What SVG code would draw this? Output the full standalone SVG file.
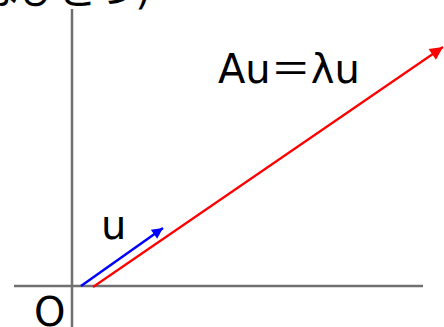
<svg xmlns="http://www.w3.org/2000/svg" width="444" height="327" viewBox="0 0 444 327">
<style>
text{font-family:"DejaVu Sans","Noto Sans CJK JP",sans-serif;font-size:40px;fill:#000}
.axis{stroke:#707070;stroke-width:2.5;fill:none}
</style>
<defs>
<marker id="hb" viewBox="0 0 10 10" refX="10" refY="5" markerWidth="16" markerHeight="11" markerUnits="userSpaceOnUse" orient="auto"><path d="M0,0L10,5L0,10z" fill="#0000ff"/></marker>
<marker id="hr" viewBox="0 0 10 10" refX="10" refY="5" markerWidth="20" markerHeight="13" markerUnits="userSpaceOnUse" orient="auto"><path d="M0,0L10,5L0,10z" fill="#ff0000"/></marker>
</defs>
<rect width="444" height="327" fill="#fff"/>
<g id="title"><text x="-22" y="4">はひとつ)</text></g>
<g id="axes">
<line class="axis" x1="72" y1="9" x2="72" y2="327"/>
<line class="axis" x1="14" y1="286" x2="423" y2="286"/>
</g>
<g id="connectors">
<line x1="81" y1="286" x2="163" y2="228" stroke="#0000ff" stroke-width="2.5" marker-end="url(#hb)"/>
<line x1="93" y1="287" x2="443" y2="47" stroke="#ff0000" stroke-width="2.2" marker-end="url(#hr)"/>
</g>
<g id="label-Au"><text x="218" y="83">Au＝λu</text></g>
<g id="label-u"><text x="101" y="239">u</text></g>
<g id="label-O"><text x="34" y="326">O</text></g>
</svg>
